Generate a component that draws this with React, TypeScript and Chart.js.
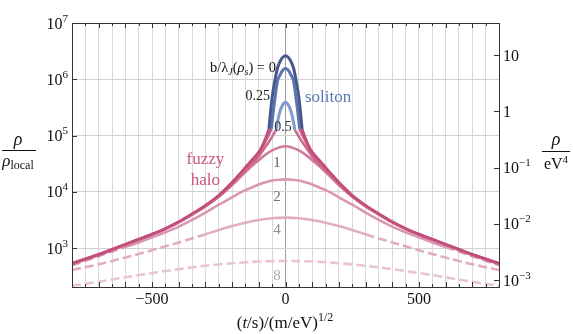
import React, { useEffect, useRef } from "react";
import { Chart, registerables } from "chart.js";

Chart.register(...registerables);

const FONT = '"Liberation Serif", "DejaVu Serif", "Times New Roman", serif';

// ---------- data (x = (t/s)/(m/eV)^1/2, y = rho / rho_local) ----------
const X_FULL = [-800, -750, -700, -650, -600, -550, -500, -450, -400, -350, -300, -250, -200, -175, -150, -125, -100, -75, -50, -25, 0, 25, 50, 75, 100, 125, 150, 175, 200, 250, 300, 350, 400, 450, 500, 550, 600, 650, 700, 750, 800];

// soliton cores (blue)
const SOL0_X = [-62, -56, -50, -40, -30, -20, -10, 0, 10, 20, 30, 40, 50, 56, 62];
const SOL0_Y = [131800, 263000, 478600, 933000, 1585000, 2089000, 2455000, 2630000, 2455000, 2089000, 1585000, 933000, 478600, 263000, 131800];
const SOL025_X = [-53, -46, -38, -30, -20, -10, 0, 10, 20, 30, 38, 46, 53];
const SOL025_Y = [131800, 263000, 524800, 933000, 1202000, 1445000, 1549000, 1445000, 1202000, 933000, 524800, 263000, 131800];
const SOL05_X = [-35, -30, -20, -10, 0, 10, 20, 30, 35];
const SOL05_Y = [125900, 173800, 275400, 354800, 389000, 354800, 275400, 173800, 125900];

// fuzzy halo parts of b = 0, 0.25, 0.5 (null = under the soliton)
const HALO0_X = [-800, -750, -700, -650, -600, -550, -500, -450, -400, -350, -300, -250, -200, -175, -150, -125, -100, -90, -75, -62, 0, 62, 75, 90, 100, 125, 150, 175, 200, 250, 300, 350, 400, 450, 500, 550, 600, 650, 700, 750, 800];
const HALO0_Y = [537, 646, 776, 955, 1175, 1445, 1778, 2239, 2951, 4074, 5754, 8710, 14790, 19950, 27540, 37150, 51290, 61660, 89130, 131800, null, 131800, 89130, 61660, 51290, 37150, 27540, 19950, 14790, 8710, 5754, 4074, 2951, 2239, 1778, 1445, 1175, 955, 776, 646, 537];
const HALO025_X = [-800, -750, -700, -650, -600, -550, -500, -450, -400, -350, -300, -250, -200, -175, -150, -125, -100, -90, -75, -62, -53, 0, 53, 62, 75, 90, 100, 125, 150, 175, 200, 250, 300, 350, 400, 450, 500, 550, 600, 650, 700, 750, 800];
const HALO025_Y = [531, 638, 767, 944, 1161, 1429, 1758, 2213, 2917, 4027, 5689, 8511, 14450, 19500, 26300, 35480, 47860, 57540, 79430, 104700, 131800, null, 131800, 104700, 79430, 57540, 47860, 35480, 26300, 19500, 14450, 8511, 5689, 4027, 2917, 2213, 1758, 1429, 1161, 944, 767, 638, 531];
const HALO05_X = [-800, -750, -700, -650, -600, -550, -500, -450, -400, -350, -300, -250, -200, -175, -150, -125, -100, -90, -75, -62, -50, -35, 0, 35, 50, 62, 75, 90, 100, 125, 150, 175, 200, 250, 300, 350, 400, 450, 500, 550, 600, 650, 700, 750, 800];
const HALO05_Y = [525, 631, 759, 933, 1148, 1413, 1738, 2188, 2884, 3981, 5559, 8318, 13800, 18200, 23990, 31620, 42660, 50120, 63100, 77620, 95500, 125900, null, 125900, 95500, 77620, 63100, 50120, 42660, 31620, 23990, 18200, 13800, 8318, 5559, 3981, 2884, 2188, 1738, 1413, 1148, 933, 759, 631, 525];

// b/lambda_J = 1, 2 (on X_FULL)
const B1_Y = [519, 624, 750, 923, 1135, 1396, 1718, 2163, 2851, 3936, 5495, 8128, 13180, 17180, 22390, 28840, 36310, 45710, 54330, 60950, 64570, 60950, 54330, 45710, 36310, 28840, 22390, 17180, 13180, 8128, 5495, 3936, 2851, 2163, 1718, 1396, 1135, 923, 750, 624, 519];
const B2_Y = [495, 596, 716, 871, 1047, 1259, 1549, 1905, 2399, 3162, 4266, 5888, 7943, 9333, 10720, 12020, 13490, 14790, 15850, 16410, 16600, 16410, 15850, 14790, 13490, 12020, 10720, 9333, 7943, 5888, 4266, 3162, 2399, 1905, 1549, 1259, 1047, 871, 716, 596, 495];
// b/lambda_J = 4
const B4_X = [-800, -750, -700, -650, -600, -550, -500, -450, -400, -350, -300, -250, -200, -150, -100, -50, 0, 50, 100, 150, 200, 250, 300, 350, 400, 450, 500, 550, 600, 650, 700, 750, 800];
const B4_Y = [407, 457, 513, 589, 676, 785, 912, 1072, 1259, 1479, 1758, 2089, 2455, 2818, 3162, 3388, 3467, 3388, 3162, 2818, 2455, 2089, 1758, 1479, 1259, 1072, 912, 785, 676, 589, 513, 457, 407];
// b/lambda_J = 8
const B8_X = [-800, -700, -600, -500, -400, -300, -200, -100, 0, 100, 200, 300, 400, 500, 600, 700, 800];
const B8_Y = [214, 251, 302, 359, 422, 484, 537, 575, 589, 575, 537, 484, 422, 359, 302, 251, 214];

// where the b=2 and b=4 curves turn dashed (|x| beyond)
const B2_DASH_FROM = 600;
const B4_DASH_FROM = 300;

// axes
const X_MIN = -800;
const X_MAX = 800;
const Y_MIN = 203;
const Y_MAX = 1e7;
const RIGHT_PER_LEFT = 3.707e-6; // rho/eV^4 per rho/rho_local
const LEFT_TICKS = [1e3, 1e4, 1e5, 1e6, 1e7];
const LEFT_EXP = ["3", "4", "5", "6", "7"];
const RIGHT_TICKS = [1e-3, 1e-2, 1e-1, 1, 10];
const RIGHT_BASE = ["10", "10", "10", "1", "10"];
const RIGHT_EXP = ["\u22123", "\u22122", "\u22121", "", ""];
const X_LABEL_VALUES = [-500, 0, 500];
const X_LABEL_TEXT = ["\u2212500", "0", "500"];

const DASH = [9, 4];

type Run = { t: string; size: number; italic?: boolean; dy?: number };

function runsWidth(ctx: CanvasRenderingContext2D, runs: Run[]) {
  let w = 0;
  for (const r of runs) {
    ctx.font = `${r.italic ? "italic " : ""}${r.size}px ${FONT}`;
    w += ctx.measureText(r.t).width;
  }
  return w;
}

function drawRuns(ctx: CanvasRenderingContext2D, runs: Run[], x: number, baseline: number, align: "left" | "right" | "center", color: string) {
  const w = runsWidth(ctx, runs);
  let cx = align === "left" ? x : align === "right" ? x - w : x - w / 2;
  ctx.fillStyle = color;
  ctx.textAlign = "left";
  ctx.textBaseline = "alphabetic";
  for (const r of runs) {
    ctx.font = `${r.italic ? "italic " : ""}${r.size}px ${FONT}`;
    ctx.fillText(r.t, cx, baseline + (r.dy || 0));
    cx += ctx.measureText(r.t).width;
  }
}

type Note = { runs: Run[]; x: number; y: number; align: "left" | "right" | "center"; color: string; size: number };
const NOTES: Note[] = [
  {
    runs: [
      { t: "b/\u03bb", size: 14.5 },
      { t: "J", size: 10, italic: true, dy: 3 },
      { t: "(", size: 14.5 },
      { t: "\u03c1", size: 14.5, italic: true },
      { t: "s", size: 10, italic: true, dy: 3 },
      { t: ") = 0", size: 14.5 },
    ],
    x: -36, y: 1.65e6, align: "right", color: "#111", size: 14,
  },
  { runs: [{ t: "0.25", size: 14 }], x: -58, y: 5.25e5, align: "right", color: "#222", size: 14 },
  { runs: [{ t: "0.5", size: 14 }], x: -9, y: 1.48e5, align: "center", color: "#333", size: 14 },
  { runs: [{ t: "soliton", size: 17 }], x: 73, y: 5.0e5, align: "left", color: "#5a77b4", size: 17 },
  { runs: [{ t: "fuzzy", size: 17 }], x: -300, y: 3.98e4, align: "center", color: "#c7557f", size: 17 },
  { runs: [{ t: "halo", size: 17 }], x: -300, y: 1.69e4, align: "center", color: "#c7557f", size: 17 },
  { runs: [{ t: "1", size: 15 }], x: -32, y: 3.39e4, align: "center", color: "#5e5e5e", size: 15 },
  { runs: [{ t: "2", size: 15 }], x: -32, y: 8.4e3, align: "center", color: "#707070", size: 15 },
  { runs: [{ t: "4", size: 15 }], x: -32, y: 2.18e3, align: "center", color: "#8c8c8c", size: 15 },
  { runs: [{ t: "8", size: 15 }], x: -32, y: 331, align: "center", color: "#a8a8a8", size: 15 },
];

const pts = (xs: number[], ys: (number | null)[]) => xs.map((x, i) => ({ x, y: ys[i] }));

const overlay = {
  id: "overlay",
  afterDraw(chart: any) {
    const { ctx, chartArea: ca, scales } = chart;
    const sx = scales.x;
    const sy = scales.y;
    const sy2 = scales.y2;
    ctx.save();
    // inward tick marks
    ctx.strokeStyle = "#333";
    ctx.lineWidth = 1;
    ctx.beginPath();
    for (let i = 0; i < X_FULL.length; i++) {
      const v = X_FULL[i];
      if (v % 50 !== 0) continue;
      const px = Math.round(sx.getPixelForValue(v)) + 0.5;
      const len = v % 100 === 0 ? 5 : 3;
      ctx.moveTo(px, ca.bottom);
      ctx.lineTo(px, ca.bottom - len);
      ctx.moveTo(px, ca.top);
      ctx.lineTo(px, ca.top + len);
    }
    LEFT_TICKS.forEach((v) => {
      const py = Math.round(sy.getPixelForValue(v)) + 0.5;
      ctx.moveTo(ca.left, py);
      ctx.lineTo(ca.left + 5, py);
    });
    RIGHT_TICKS.forEach((v) => {
      const py = Math.round(sy2.getPixelForValue(v)) + 0.5;
      ctx.moveTo(ca.right, py);
      ctx.lineTo(ca.right - 5, py);
    });
    ctx.stroke();

    // left tick labels 10^n
    LEFT_TICKS.forEach((v, i) => {
      const py = sy.getPixelForValue(v);
      drawRuns(ctx, [{ t: "10", size: 16 }, { t: LEFT_EXP[i], size: 11, dy: -7 }], ca.left - 4, py + 5.5, "right", "#111");
    });
    // right tick labels
    RIGHT_TICKS.forEach((v, i) => {
      const py = sy2.getPixelForValue(v);
      const runs: Run[] = [{ t: RIGHT_BASE[i], size: 16 }];
      if (RIGHT_EXP[i]) runs.push({ t: RIGHT_EXP[i], size: 11, dy: -7 });
      drawRuns(ctx, runs, ca.right + 4, py + 5.5, "left", "#111");
    });

    // axis titles
    ctx.fillStyle = "#111";
    drawRuns(ctx, [{ t: "\u03c1", size: 18, italic: true }], 18, 145, "center", "#111");
    ctx.fillRect(2, 150, 34, 1);
    drawRuns(ctx, [{ t: "\u03c1", size: 17, italic: true }, { t: "local", size: 12, dy: 3 }], 18, 166, "center", "#111");

    drawRuns(ctx, [{ t: "\u03c1", size: 18, italic: true }], 556, 145, "center", "#111");
    ctx.fillRect(542, 151, 28, 1);
    drawRuns(ctx, [{ t: "eV", size: 16 }, { t: "4", size: 11, dy: -6 }], 556, 169, "center", "#111");

    drawRuns(
      ctx,
      [
        { t: "(", size: 17 },
        { t: "t", size: 17, italic: true },
        { t: "/s)/(m/eV)", size: 17 },
        { t: "1/2", size: 12, dy: -7 },
      ],
      285,
      328,
      "center",
      "#111"
    );

    // curve annotations
    NOTES.forEach((n) => {
      const px = sx.getPixelForValue(n.x);
      const py = sy.getPixelForValue(n.y);
      drawRuns(ctx, n.runs, px, py + n.size * 0.33, n.align, n.color);
    });
    ctx.restore();
  },
};

export default function App() {
  const ref = useRef<HTMLCanvasElement | null>(null);
  useEffect(() => {
    if (!ref.current) return;
    const line = (data: any[], color: string, width: number, extra: any = {}) => ({
      data,
      borderColor: color,
      backgroundColor: color,
      borderWidth: width,
      pointRadius: 0,
      fill: false,
      cubicInterpolationMode: "monotone",
      spanGaps: false,
      ...extra,
    });
    const chart = new Chart(ref.current, {
      type: "line",
      data: {
        datasets: [
          line(pts(SOL0_X, SOL0_Y), "#46598f", 3),
          line(pts(SOL025_X, SOL025_Y), "#5a74ae", 3),
          line(pts(SOL05_X, SOL05_Y), "#819ad0", 3),
          line(pts(HALO0_X, HALO0_Y), "#c24f7b", 2.6),
          line(pts(HALO025_X, HALO025_Y), "#c85d86", 2.6),
          line(pts(HALO05_X, HALO05_Y), "#cc6a8f", 2.6),
          line(pts(X_FULL, B1_Y), "#d27c9e", 2.6),
          line(pts(X_FULL, B2_Y), "#da97b2", 2.6, {
            segment: {
              borderDash: (c: any) =>
                Math.min(Math.abs(c.p0.parsed.x), Math.abs(c.p1.parsed.x)) >= B2_DASH_FROM ? DASH : undefined,
            },
          }),
          line(pts(B4_X, B4_Y), "#e2acc2", 2.6, {
            segment: {
              borderDash: (c: any) =>
                Math.min(Math.abs(c.p0.parsed.x), Math.abs(c.p1.parsed.x)) >= B4_DASH_FROM ? DASH : undefined,
            },
          }),
          line(pts(B8_X, B8_Y), "#eac4d3", 2.6, { borderDash: DASH }),
        ],
      },
      options: {
        animation: false,
        responsive: false,
        devicePixelRatio: 1,
        events: [],
        layout: { padding: 0 },
        plugins: { legend: { display: false }, tooltip: { enabled: false }, title: { display: false } },
        scales: {
          x: {
            type: "linear",
            position: "bottom",
            min: X_MIN,
            max: X_MAX,
            afterFit: (s: any) => {
              s.height = 47;
            },
            ticks: {
              stepSize: 50,
              maxTicksLimit: 40,
              autoSkip: false,
              maxRotation: 0,
              minRotation: 0,
              padding: 3,
              color: "#111",
              font: { family: FONT, size: 16 },
              callback: (v: any) => {
                const i = X_LABEL_VALUES.indexOf(Number(v));
                return i >= 0 ? X_LABEL_TEXT[i] : "";
              },
            },
            grid: {
              color: (c: any) => (c.tick && c.tick.value === 0 ? "#9c9c9c" : "#d9d9d9"),
              lineWidth: 1,
              drawTicks: false,
            },
            border: { display: true, color: "#333", width: 1, z: 1 },
          },
          x2: {
            type: "linear",
            position: "top",
            min: X_MIN,
            max: X_MAX,
            afterFit: (s: any) => {
              s.height = 23;
            },
            ticks: { display: false },
            grid: { display: false, drawTicks: false },
            border: { display: true, color: "#333", width: 1, z: 1 },
          },
          y: {
            type: "logarithmic",
            position: "left",
            min: Y_MIN,
            max: Y_MAX,
            afterFit: (s: any) => {
              s.width = 72;
            },
            afterBuildTicks: (s: any) => {
              s.ticks = LEFT_TICKS.map((v) => ({ value: v }));
            },
            ticks: { display: false },
            grid: { color: "#d2d2d2", lineWidth: 1, drawTicks: false },
            border: { display: true, color: "#333", width: 1, z: 1 },
          },
          y2: {
            type: "logarithmic",
            position: "right",
            min: Y_MIN * RIGHT_PER_LEFT,
            max: Y_MAX * RIGHT_PER_LEFT,
            afterFit: (s: any) => {
              s.width = 74;
            },
            afterBuildTicks: (s: any) => {
              s.ticks = RIGHT_TICKS.map((v) => ({ value: v }));
            },
            ticks: { display: false },
            grid: { display: false, drawTicks: false },
            border: { display: true, color: "#333", width: 1, z: 1 },
          },
        },
      } as any,
      plugins: [overlay],
    });
    return () => chart.destroy();
  }, []);
  return (
    <div style={{ position: "absolute", left: 0, top: 0, width: 573, height: 334, background: "#fff" }}>
      <canvas ref={ref} width={573} height={334} style={{ display: "block" }} />
    </div>
  );
}
